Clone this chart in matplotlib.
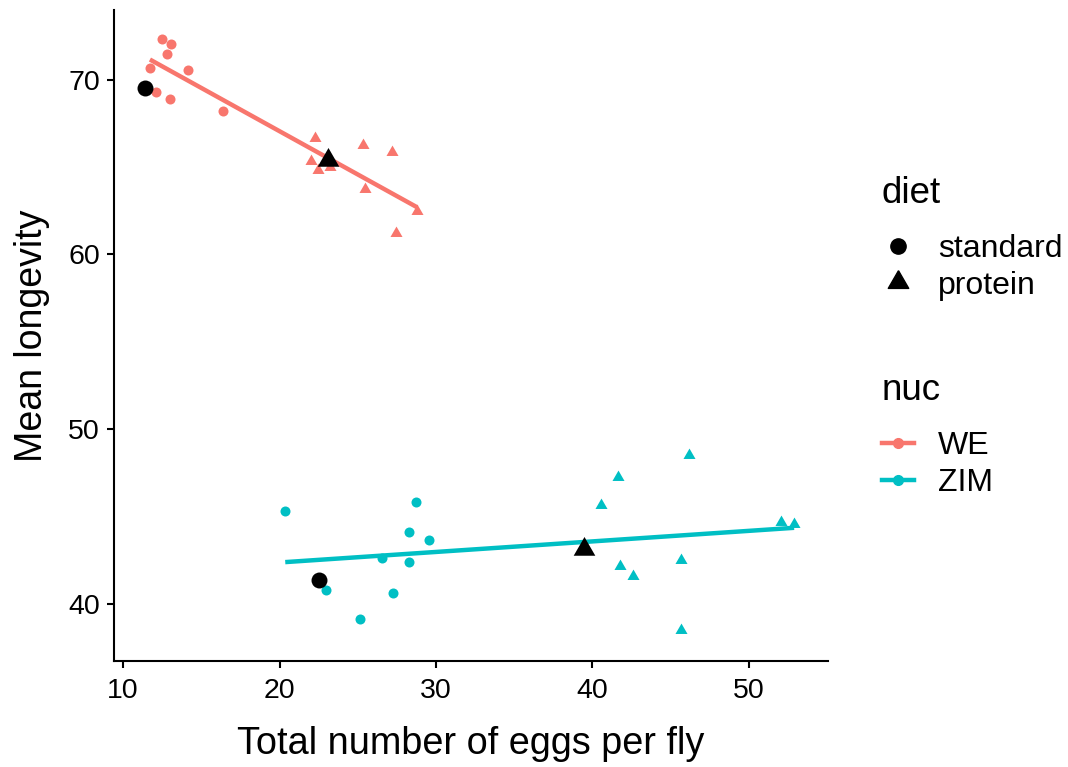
import numpy as np
import matplotlib
matplotlib.use("Agg")
import matplotlib.pyplot as plt
from matplotlib.lines import Line2D

plt.rcParams['font.family'] = ['Liberation Sans', 'DejaVu Sans']

# Data
we_std_eggs = [12.47, 13.03, 12.81, 11.71, 14.13, 12.09, 12.98, 16.39]
we_std_life = [72.35, 72.05, 71.51, 70.71, 70.59, 69.33, 68.91, 68.22]
we_pro_eggs = [22.27, 21.99, 22.46, 23.20, 25.34, 27.21, 25.44, 28.79, 27.47]
we_pro_life = [66.66, 65.36, 64.84, 65.03, 66.25, 65.85, 63.77, 62.47, 61.21]
zim_std_eggs = [20.36, 28.72, 28.26, 29.54, 26.57, 28.26, 22.94, 27.23, 25.12]
zim_std_life = [45.30, 45.82, 44.12, 43.62, 42.61, 42.40, 40.79, 40.60, 39.11]
zim_pro_eggs = [46.17, 41.60, 40.54, 52.05, 52.89, 41.73, 45.69, 42.61, 45.67]
zim_pro_life = [48.51, 47.25, 45.65, 44.66, 44.54, 42.17, 42.48, 41.56, 38.46]

# black reference points
ref_std_eggs = [11.41, 22.52]
ref_std_life = [69.52, 41.33]
ref_pro_eggs = [23.10, 39.47]
ref_pro_life = [65.41, 43.10]

nuc_labels = ["WE", "ZIM"]
diet_labels = ["standard", "protein"]
colors = {"WE": "#F8766D", "ZIM": "#00BFC4"}

# equilateral triangle marker (like ggplot shape 17)
tri = [(0, 1), (-0.866, -0.5), (0.866, -0.5), (0, 1)]

fig = plt.figure(figsize=(10.68, 7.67), dpi=100)
ax = fig.add_axes([0.1067, 0.1382, 0.6685, 0.8488])

groups = {
    "WE": (we_std_eggs, we_std_life, we_pro_eggs, we_pro_life),
    "ZIM": (zim_std_eggs, zim_std_life, zim_pro_eggs, zim_pro_life),
}

for nuc in nuc_labels:
    sx, sy, px, py = groups[nuc]
    col = colors[nuc]
    ax.scatter(sx, sy, s=52, color=col, marker="o", linewidths=0, zorder=3)
    ax.scatter(px, py, s=100, color=col, marker=tri, linewidths=0, zorder=3)
    # linear fit over the nuc group
    allx = np.array(sx + px)
    ally = np.array(sy + py)
    slope, icpt = np.polyfit(allx, ally, 1)
    fx = np.array([allx.min(), allx.max()])
    ax.plot(fx, icpt + slope * fx, color=col, linewidth=3.2, zorder=2,
            solid_capstyle="butt")

ax.scatter(ref_std_eggs, ref_std_life, s=132, color="black", marker="o",
           linewidths=0, zorder=4)
ax.scatter(ref_pro_eggs, ref_pro_life, s=324, color="black", marker=tri,
           linewidths=0, zorder=4)

ax.set_xlim(9.41, 55.05)
ax.set_ylim(36.71, 74.01)
ax.set_xticks([10, 20, 30, 40, 50])
ax.set_yticks([40, 50, 60, 70])

for side in ["top", "right"]:
    ax.spines[side].set_visible(False)
for side in ["left", "bottom"]:
    ax.spines[side].set_linewidth(1.5)
ax.tick_params(axis="both", length=5, width=1.5, labelsize=20.5,
               colors="black")
ax.tick_params(axis="x", pad=7)
ax.tick_params(axis="y", pad=5)

ax.set_xlabel("Total number of eggs per fly", fontsize=27.3, labelpad=16)
ax.set_ylabel("Mean longevity", fontsize=27, labelpad=13)

# legends
diet_handles = [
    Line2D([], [], linestyle="none", marker="o", markersize=11, color="black"),
    Line2D([], [], linestyle="none", marker=tri, markersize=17, color="black"),
]
leg1 = fig.legend(diet_handles, diet_labels, title="diet",
                  loc="upper left", bbox_to_anchor=(0.8258, 0.771),
                  frameon=False, fontsize=23, title_fontsize=26.5,
                  alignment="left", handlelength=1.0, handletextpad=0.75,
                  labelspacing=0.2, borderpad=0, borderaxespad=0)
leg1._legend_box.sep = 17

nuc_handles = [
    Line2D([], [], color=colors[n], linewidth=3.2, marker="o", markersize=7)
    for n in nuc_labels
]
leg2 = fig.legend(nuc_handles, nuc_labels, title="nuc",
                  loc="upper left", bbox_to_anchor=(0.8258, 0.514),
                  frameon=False, fontsize=23, title_fontsize=26.5,
                  alignment="left", handlelength=1.0, handletextpad=0.75,
                  labelspacing=0.2, borderpad=0, borderaxespad=0)
leg2._legend_box.sep = 17

fig.savefig("out.png", dpi=100)
